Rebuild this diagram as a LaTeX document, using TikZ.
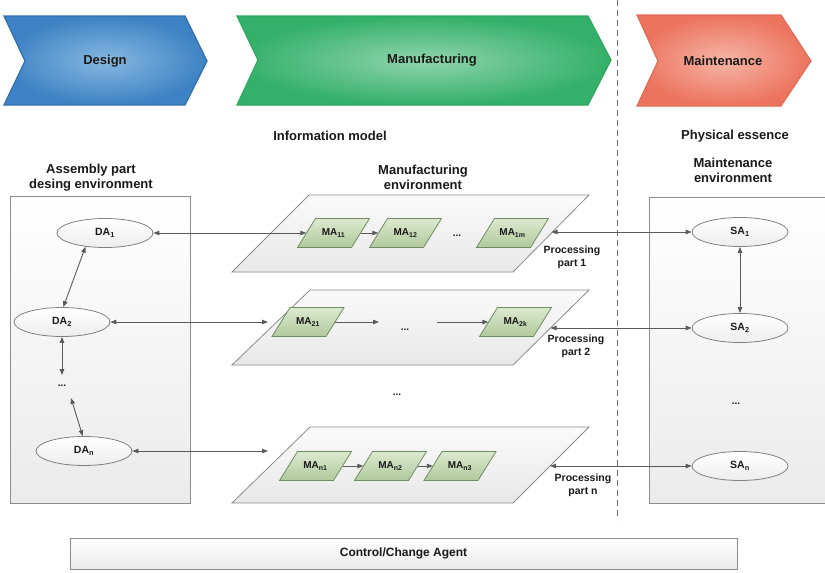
\documentclass[tikz,border=0pt]{standalone}
\usepackage{fontspec}
\setmainfont{Liberation Sans}
\usetikzlibrary{arrows.meta,calc,shapes.geometric}
\definecolor{linegray}{HTML}{5A5A5A}
\definecolor{boxborder}{HTML}{8C8C8C}
\definecolor{ellborder}{HTML}{808080}
\definecolor{maborder}{HTML}{6E8D62}
\definecolor{matop}{HTML}{DCE9CF}
\definecolor{mabot}{HTML}{B0C99C}
\definecolor{dashcol}{HTML}{6E6E6E}
\definecolor{bluebd}{HTML}{2F6FAE}
\definecolor{bluein}{HTML}{86B8E0}
\definecolor{blueout}{HTML}{3D82C4}
\definecolor{greenbd}{HTML}{2EA85E}
\definecolor{greenin}{HTML}{90D4AC}
\definecolor{greenout}{HTML}{33B069}
\definecolor{redbd}{HTML}{E46C56}
\definecolor{redin}{HTML}{F6B5A6}
\definecolor{redout}{HTML}{EC735E}
\definecolor{txt}{HTML}{1A1A1A}
\newcommand{\sbs}[1]{\textsubscript{#1}}
\newcommand{\mapar}[4]{%
  \shadedraw[mashape] ({#2-36},{#3+14.5}) -- ({#2+18},{#3+14.5}) -- ({#2+36},{#3-14.5}) -- ({#2-18},{#3-14.5}) -- cycle;
  \node[malabel] (#1) at (#2,#3) {#4};}
\begin{document}
\begin{tikzpicture}[x=1pt,y=-1pt,
  every node/.style={text=txt},
  chev/.style={line width=1.2pt},
  chevtext/.style={font=\bfseries\fontsize{13}{15}\selectfont},
  heading/.style={font=\bfseries\fontsize{13}{15}\selectfont, align=center},
  proc/.style={font=\bfseries\fontsize{10.5}{13}\selectfont, align=center},
  dotstext/.style={font=\bfseries\fontsize{10}{12}\selectfont},
  envbox/.style={draw=boxborder, line width=0.8pt, top color=white, bottom color=black!8},
  plane/.style={draw=boxborder, line width=0.8pt, top color=black!2, bottom color=black!9},
  mashape/.style={draw=maborder, line width=0.8pt, top color=matop, bottom color=mabot},
  malabel/.style={minimum width=54pt, minimum height=29pt, inner sep=0pt, font=\bfseries\fontsize{10}{12}\selectfont},
  ell/.style={ellipse, draw=ellborder, line width=0.8pt, top color=white, bottom color=black!7, minimum width=96pt, minimum height=29pt, inner sep=0pt, font=\bfseries\fontsize{10.5}{12}\selectfont},
  conn/.style={draw=linegray, line width=0.9pt, {Triangle[length=6pt,width=4.5pt]}-{Triangle[length=6pt,width=4.5pt]}},
  conr/.style={draw=linegray, line width=0.9pt, -{Triangle[length=6pt,width=4.5pt]}},
  agentbox/.style={draw=boxborder, line width=0.8pt, top color=white, bottom color=black!8, minimum width=667pt, minimum height=31pt, font=\bfseries\fontsize{12}{14}\selectfont}
]
\clip (0,0) rectangle (825,573);
\fill[white] (0,0) rectangle (825,573);

% chevrons
\shadedraw[chev, draw=bluebd, inner color=bluein, outer color=blueout]
  (4,16) -- (185,16) -- (207,61) -- (185,105) -- (4,105) -- (25,61) -- cycle;
\node[chevtext] (design) at (105,61) {Design};
\shadedraw[chev, draw=greenbd, inner color=greenin, outer color=greenout]
  (237,16) -- (588,16) -- (611,60) -- (588,105) -- (237,105) -- (258,60) -- cycle;
\node[chevtext] (manuf) at (432,60) {Manufacturing};
\shadedraw[chev, draw=redbd, inner color=redin, outer color=redout]
  (637,15) -- (781,15) -- (811,61) -- (781,106) -- (637,106) -- (658,61) -- cycle;
\node[chevtext] (maint) at (723,61) {Maintenance};

% dashed separator
\draw[dashcol, line width=0.8pt, dash pattern=on 6pt off 4pt] (617,0) -- (617,520);

% headings
\node[heading] (infomodel) at (330,136) {Information model};
\node[heading] (physess) at (735,136) {Physical essence};
\node[heading] (asmenv) at (91,177.5) {Assembly part\\desing environment};
\node[heading] (manenv) at (423,177.5) {Manufacturing\\environment};
\node[heading] (mainenv) at (733,170) {Maintenance\\environment};

% environment boxes
\shadedraw[envbox] (10,196) rectangle (190,503);
\shadedraw[envbox] (649,197) rectangle (832,503);

% planes
\shadedraw[plane] (309,195) -- (589,195) -- (513,272) -- (232,272) -- cycle;
\shadedraw[plane] (310,290) -- (589,290) -- (513,365) -- (232,365) -- cycle;
\shadedraw[plane] (310,427) -- (589,427) -- (513,503) -- (232,503) -- cycle;
\coordinate (p1r) at (551.5,232);
\coordinate (p2r) at (550.5,328);
\coordinate (pnr) at (550,466);

% manufacturing activities
\mapar{ma11}{333.5}{233}{MA\sbs{11}}
\mapar{ma12}{405.5}{233}{MA\sbs{12}}
\mapar{ma1m}{512.5}{233}{MA\sbs{1m}}
\node[dotstext] (dots1r) at (457,236) {...};
\mapar{ma21}{308}{322}{MA\sbs{21}}
\mapar{ma2k}{515.5}{322}{MA\sbs{2k}}
\node[dotstext] (dots2r) at (405,330) {...};
\coordinate (a2a) at (379,322);
\coordinate (a2b) at (437,322);
\mapar{man1}{315.5}{466}{MA\sbs{n1}}
\mapar{man2}{390.5}{466}{MA\sbs{n2}}
\mapar{man3}{460}{466}{MA\sbs{n3}}
\node[dotstext] (dotsmid) at (397,395) {...};

% processing labels
\node[proc] (proc1) at (572,257) {Processing\\part 1};
\node[proc] (proc2) at (576,346.5) {Processing\\part 2};
\node[proc] (procn) at (583,485) {Processing\\part n};

% design activities
\node[ell] (da1) at (105,233) {DA\sbs{1}};
\node[ell] (da2) at (62,322) {DA\sbs{2}};
\node[dotstext] (dotsL) at (62,386) {...};
\coordinate (d1t) at (62,375);
\coordinate (d1b) at (71,398);
\node[ell] (dan) at (84,451) {DA\sbs{n}};
\coordinate (l2) at (268,322);
\coordinate (ln) at (268,451);

% maintenance activities
\node[ell] (sa1) at (740,232) {SA\sbs{1}};
\node[ell] (sa2) at (740,328) {SA\sbs{2}};
\node[dotstext] (dotsS) at (736,404) {...};
\node[ell] (san) at (740,466) {SA\sbs{n}};

% connectors
\draw[conn] (da1.215) -- (da2.85);
\draw[conn] (da2.south) -- (d1t);
\draw[conn] (d1b) -- (dan.95);
\draw[conn] (da1.east) -- (ma11.west);
\draw[conn] (da2.east) -- (l2);
\draw[conn] (dan.east) -- (ln);
\draw[conr] (ma11.east) -- (ma12.west);
\draw[conr] (ma21.east) -- (a2a);
\draw[conr] (a2b) -- (ma2k.west);
\draw[conr] (man1.east) -- (man2.west);
\draw[conr] (man2.east) -- (man3.west);
\draw[conn] (p1r) -- (sa1.west);
\draw[conn] (p2r) -- (sa2.west);
\draw[conn] (pnr) -- (san.west);
\draw[conn] (sa1.south) -- (sa2.north);

% control agent
\node[agentbox] (agent) at (403.5,553.5) {Control/Change Agent};
\end{tikzpicture}
\end{document}
